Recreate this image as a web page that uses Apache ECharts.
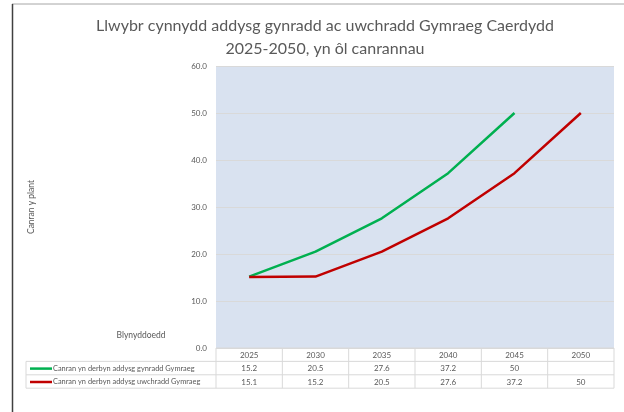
<!DOCTYPE html>
<html>
<head>
<meta charset="utf-8">
<script src="https://cdn.jsdelivr.net/npm/echarts@6/dist/echarts.min.js"></script>
<style>
  html, body { margin: 0; padding: 0; background: #ffffff; }
  #chart { width: 624px; height: 412px; }
</style>
</head>
<body>
<div id="chart"></div>
<script>
// Years along the category axis (also the header row of the data table)
const years = ['2025', '2030', '2035', '2040', '2045', '2050'];
// Percentage of children in Welsh-medium primary education
const primaryPct = [15.2, 20.5, 27.6, 37.2, 50, null];
// Percentage of children in Welsh-medium secondary education
const secondaryPct = [15.1, 15.2, 20.5, 27.6, 37.2, 50];
const seriesNames = [
  'Canran yn derbyn addysg gynradd Gymraeg',
  'Canran yn derbyn addysg uwchradd Gymraeg'
];
const seriesColors = ['#00B050', '#C00000'];
const yMin = 0, yMax = 60, yStep = 10;

const FONT = 'Lato, "Liberation Sans", sans-serif';
const TEXT = '#595959';
const BORDER = '#D9D9D9';

const chart = echarts.init(document.getElementById('chart'), null, { renderer: 'canvas' });

chart.setOption({
  animation: false,
  backgroundColor: '#ffffff',
  title: {
    text: 'Llwybr cynnydd addysg gynradd ac uwchradd Gymraeg Caerdydd\n2025-2050, yn ôl canrannau',
    left: 320,
    top: 9,
    textAlign: 'center',
    textStyle: { fontFamily: FONT, fontSize: 16, fontWeight: 'normal', color: TEXT, lineHeight: 23 }
  },
  grid: { left: 216, right: 10, top: 66, bottom: 64, show: true, backgroundColor: '#D9E2F0', borderWidth: 0 },
  xAxis: {
    type: 'category',
    data: years,
    boundaryGap: true,
    axisLine: { show: false },
    axisTick: { show: false },
    axisLabel: { show: false },
    splitLine: { show: false }
  },
  yAxis: {
    type: 'value',
    min: yMin, max: yMax, interval: yStep,
    name: 'Canran y plant',
    nameLocation: 'middle',
    nameRotate: 90,
    nameGap: 180,
    nameTextStyle: { fontFamily: FONT, fontSize: 8.5, color: TEXT },
    axisLine: { show: false },
    axisTick: { show: false },
    axisLabel: {
      margin: 9,
      fontFamily: FONT, fontSize: 8, color: TEXT,
      formatter: v => v.toFixed(1)
    },
    splitLine: { lineStyle: { color: BORDER, width: 1 } }
  },
  series: [
    {
      name: seriesNames[0], type: 'line', data: primaryPct,
      symbol: 'none', connectNulls: false,
      lineStyle: { color: seriesColors[0], width: 2.5 }
    },
    {
      name: seriesNames[1], type: 'line', data: secondaryPct,
      symbol: 'none',
      lineStyle: { color: seriesColors[1], width: 2.5 }
    }
  ]
});

// Data table under the plot, laid out from the axis scales
function buildTable() {
  const centers = years.map((y, i) => chart.convertToPixel({ xAxisIndex: 0 }, i));
  const colW = centers.length > 1 ? centers[1] - centers[0] : 66;
  const left = centers[0] - colW / 2;
  const right = centers[centers.length - 1] + colW / 2;
  const top = chart.convertToPixel({ yAxisIndex: 0 }, yMin);
  const rowH = 13.4;
  const legendLeft = 26;
  const g = [];

  const hLine = (x1, x2, y) => g.push({
    type: 'line', silent: true,
    shape: { x1, y1: y, x2, y2: y },
    style: { stroke: BORDER, lineWidth: 1 }
  });
  const vLine = (x, y1, y2) => g.push({
    type: 'line', silent: true,
    shape: { x1: x, y1, x2: x, y2 },
    style: { stroke: BORDER, lineWidth: 1 }
  });
  const cellText = (x, y, text, align, size) => g.push({
    type: 'text', silent: true,
    style: {
      x, y, text, align: align || 'center', verticalAlign: 'middle',
      fontFamily: FONT, fontSize: size || 8, fill: TEXT
    }
  });

  // grid borders
  hLine(left, right, top);
  for (let r = 1; r <= 3; r++) hLine(legendLeft, right, top + r * rowH);
  for (let c = 0; c <= years.length; c++) vLine(left + c * colW, top, top + 3 * rowH);
  vLine(legendLeft, top + rowH, top + 3 * rowH);

  // header row: years
  years.forEach((y, i) => cellText(centers[i], top + rowH / 2 + 0.5, y));

  // series rows
  const rows = [primaryPct, secondaryPct];
  rows.forEach((vals, r) => {
    const cy = top + (r + 1) * rowH + rowH / 2 + 0.5;
    g.push({
      type: 'line', silent: true,
      shape: { x1: legendLeft + 4, y1: cy, x2: legendLeft + 26, y2: cy },
      style: { stroke: seriesColors[r], lineWidth: 2.5 }
    });
    cellText(legendLeft + 27, cy, seriesNames[r], 'left', 7.4);
    vals.forEach((v, i) => {
      if (v !== null && v !== undefined) cellText(centers[i], cy, String(v));
    });
  });

  // axis caption beside the table
  g.push({
    type: 'text', silent: true,
    style: {
      x: 141, y: 335, text: 'Blynyddoedd', align: 'center', verticalAlign: 'middle',
      fontFamily: FONT, fontSize: 8.5, fill: TEXT
    }
  });

  // frame edges
  g.push({
    type: 'line', silent: true,
    shape: { x1: 12, y1: 4, x2: 624, y2: 4 },
    style: { stroke: '#A6A6A6', lineWidth: 1 }
  });
  g.push({
    type: 'line', silent: true,
    shape: { x1: 12.5, y1: 4, x2: 12.5, y2: 412 },
    style: { stroke: '#404040', lineWidth: 1.5 }
  });

  chart.setOption({ graphic: { elements: g } });
}
buildTable();
</script>
</body>
</html>
